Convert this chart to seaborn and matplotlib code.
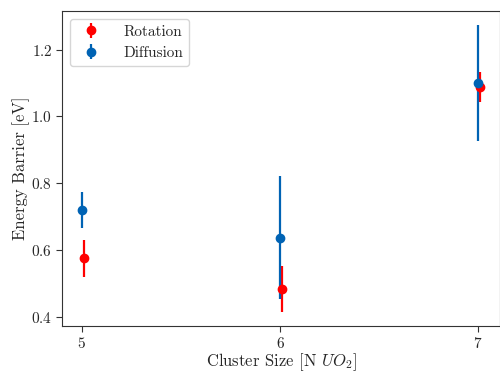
import matplotlib
matplotlib.use("Agg")
import matplotlib.pyplot as plt
import seaborn as sns

# Data
cluster_size = [5, 6, 7]
rotation_x = [5.01, 6.01, 7.01]
rotation_barrier = [0.576, 0.484, 1.088]
rotation_err = [0.056, 0.068, 0.045]
diffusion_barrier = [0.720, 0.637, 1.100]
diffusion_err = [0.055, 0.184, 0.172]

sns.set_style("ticks")
plt.rcParams["font.family"] = ["cmr10", "DejaVu Serif"]
plt.rcParams["mathtext.fontset"] = "cm"
plt.rcParams["axes.formatter.use_mathtext"] = True

fig, ax = plt.subplots(figsize=(5, 3.71), dpi=100)
fig.subplots_adjust(left=0.124, right=1.0, bottom=0.121, top=0.97)

ax.errorbar(rotation_x, rotation_barrier, yerr=rotation_err, fmt="o",
            color="#ff0000", ms=6, elinewidth=1.6, label="Rotation")
ax.errorbar(cluster_size, diffusion_barrier, yerr=diffusion_err, fmt="o",
            color="#0063b4", ms=6, elinewidth=1.6, label="Diffusion")

ax.set_xticks(cluster_size)
ax.set_yticks([0.4, 0.6, 0.8, 1.0, 1.2])
ax.tick_params(labelsize=11, length=4, pad=3, color="#333333")
ax.set_xlabel(r"Cluster Size [N $UO_2$]", fontsize=12, labelpad=0)
ax.set_ylabel("Energy Barrier [eV]", fontsize=12, labelpad=1)
for s in ax.spines.values():
    s.set_color("#333333")
ax.legend(loc="upper left", fontsize=11, handletextpad=1.1)

plt.savefig("out.png", dpi=100)
